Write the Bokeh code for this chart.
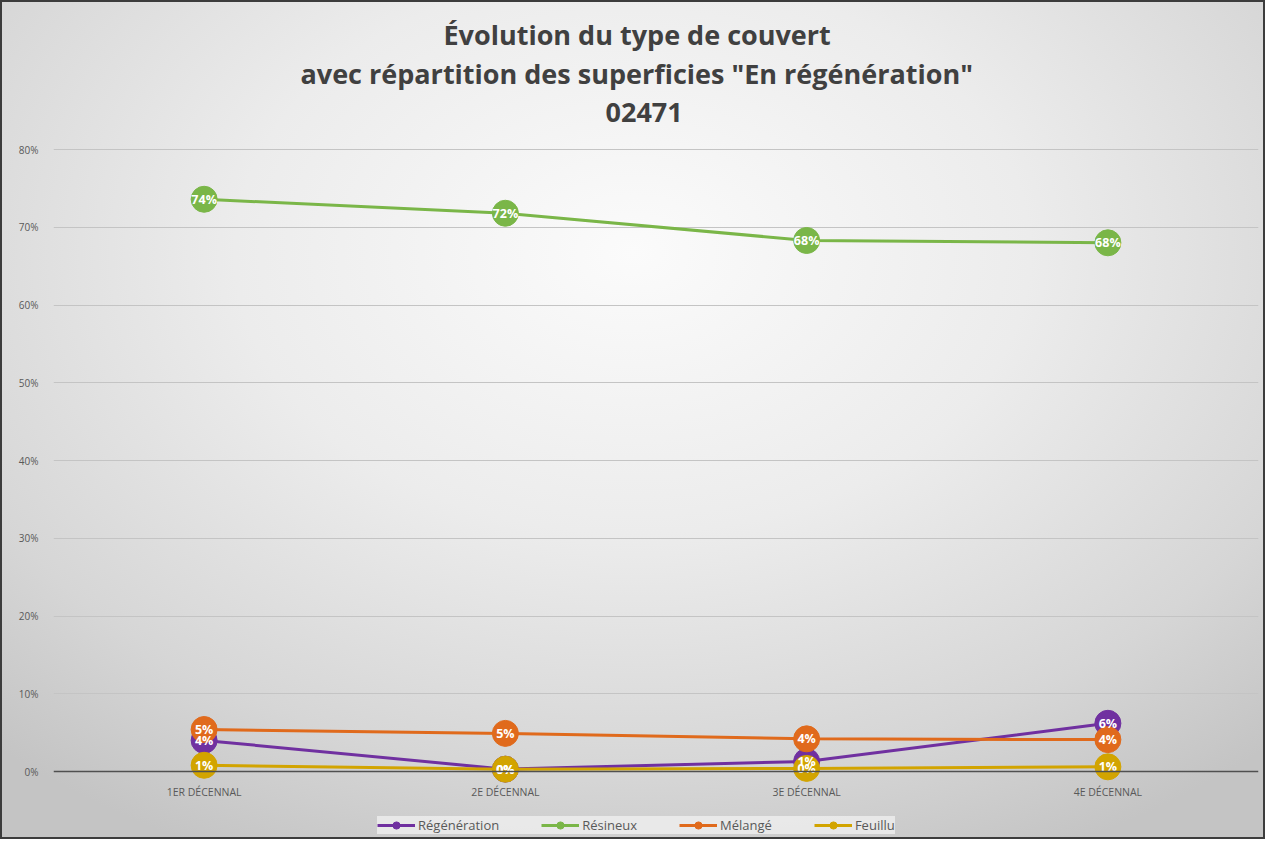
from bokeh.plotting import figure
from bokeh.models import (ColumnDataSource, FactorRange, FixedTicker, NumeralTickFormatter,
                          Legend, LegendItem, Span, Title)
from bokeh.core.properties import value
from bokeh.embed import file_html
from bokeh.resources import INLINE

categories = ["1ER DÉCENNAL", "2E DÉCENNAL", "3E DÉCENNAL", "4E DÉCENNAL"]
regeneration = [0.040, 0.003, 0.013, 0.062]
resineux = [0.736, 0.718, 0.683, 0.680]
melange = [0.054, 0.049, 0.042, 0.041]
feuillu = [0.008, 0.003, 0.004, 0.006]
y_ticks = [0.0, 0.1, 0.2, 0.3, 0.4, 0.5, 0.6, 0.7, 0.8]
title_lines = ["Évolution du type de couvert",
               'avec répartition des superficies "En régénération"',
               "02471"]

series = [
    ("Régénération", regeneration, "#7030a0"),
    ("Résineux", resineux, "#7ab648"),
    ("Mélangé", melange, "#e06a1c"),
    ("Feuillu", feuillu, "#d2a400"),
]

FONT = "Open Sans"
CAT_LABEL_Y = -0.027

p = figure(width=1265, height=839, x_range=FactorRange(*categories), y_range=(-0.0836, 0.8013),
           output_backend="svg", toolbar_location=None,
           min_border_left=51, min_border_right=9, min_border_top=146, min_border_bottom=5)

p.background_fill_alpha = 0
p.border_fill_alpha = 0
p.outline_line_color = None
p.styles = {
    "border": "2px solid #3c3c3c",
    "background": "radial-gradient(ellipse 75% 80% at 50% 30%, #fbfbfb 0%, #ececec 42%, #d6d6d6 78%, #c4c4c4 100%)",
}

# title lines, stacked upward from the frame: spacer, line 3, line 2, line 1
p.add_layout(Title(text=" ", text_font_size="1px", standoff=15), "above")
for txt, so, off in [(title_lines[2], 18, 552), (title_lines[1], 0, 247), (title_lines[0], 0, 390)]:
    p.add_layout(Title(text=txt, align="left", offset=off, text_font=FONT, text_font_size="27px",
                       text_font_style="bold", text_color="#404040", standoff=so), "above")

# axes
p.yaxis.ticker = FixedTicker(ticks=y_ticks)
p.yaxis.formatter = NumeralTickFormatter(format="0%")
p.yaxis.axis_line_color = None
p.yaxis.major_tick_line_color = None
p.yaxis.minor_tick_line_color = None
p.yaxis.major_tick_out = 0
p.yaxis.major_label_standoff = 15
p.yaxis.major_label_text_font = FONT
p.yaxis.major_label_text_font_size = "10px"
p.yaxis.major_label_text_color = "#595959"

p.xaxis.visible = False

p.xgrid.grid_line_color = None
p.ygrid.ticker = FixedTicker(ticks=y_ticks)
p.ygrid.grid_line_color = "#c4c4c4"
p.ygrid.grid_line_width = 1

p.add_layout(Span(location=0, dimension="width", line_color="#505050", line_width=1.5))

# category labels (drawn through the categorical scale, just below the 0% line)
cat_src = ColumnDataSource(dict(x=categories, y=[CAT_LABEL_Y] * len(categories), t=categories))
p.text("x", "y", text="t", source=cat_src, text_color="#595959", text_align="center",
       text_baseline="middle", text_font=value(FONT), text_font_size="10.5px")

items = []
label_sources = []
for name, vals, color in series:
    src = ColumnDataSource(dict(x=categories, y=vals, lab=[f"{round(v*100):.0f}%" for v in vals]))
    ln = p.line("x", "y", source=src, line_color=color, line_width=3)
    sc = p.scatter("x", "y", source=src, size=26, fill_color=color, line_color=color)
    items.append(LegendItem(label=name, renderers=[ln, sc]))
    label_sources.append(src)

for src in label_sources:
    p.text("x", "y", text="lab", source=src, text_color="white", text_align="center",
           text_baseline="middle", text_font=value(FONT), text_font_size="12.5px",
           text_font_style="bold")

legend = Legend(items=items, orientation="horizontal", location=(324, 2),
                label_text_font=FONT, label_text_font_size="13px", label_text_color="#595959",
                glyph_width=38, glyph_height=18, spacing=42, padding=5, margin=0,
                label_standoff=3, background_fill_color="#efefef", background_fill_alpha=0.8,
                border_line_color=None)
p.add_layout(legend, "center")

open("out.html", "w").write(file_html(p, INLINE))
